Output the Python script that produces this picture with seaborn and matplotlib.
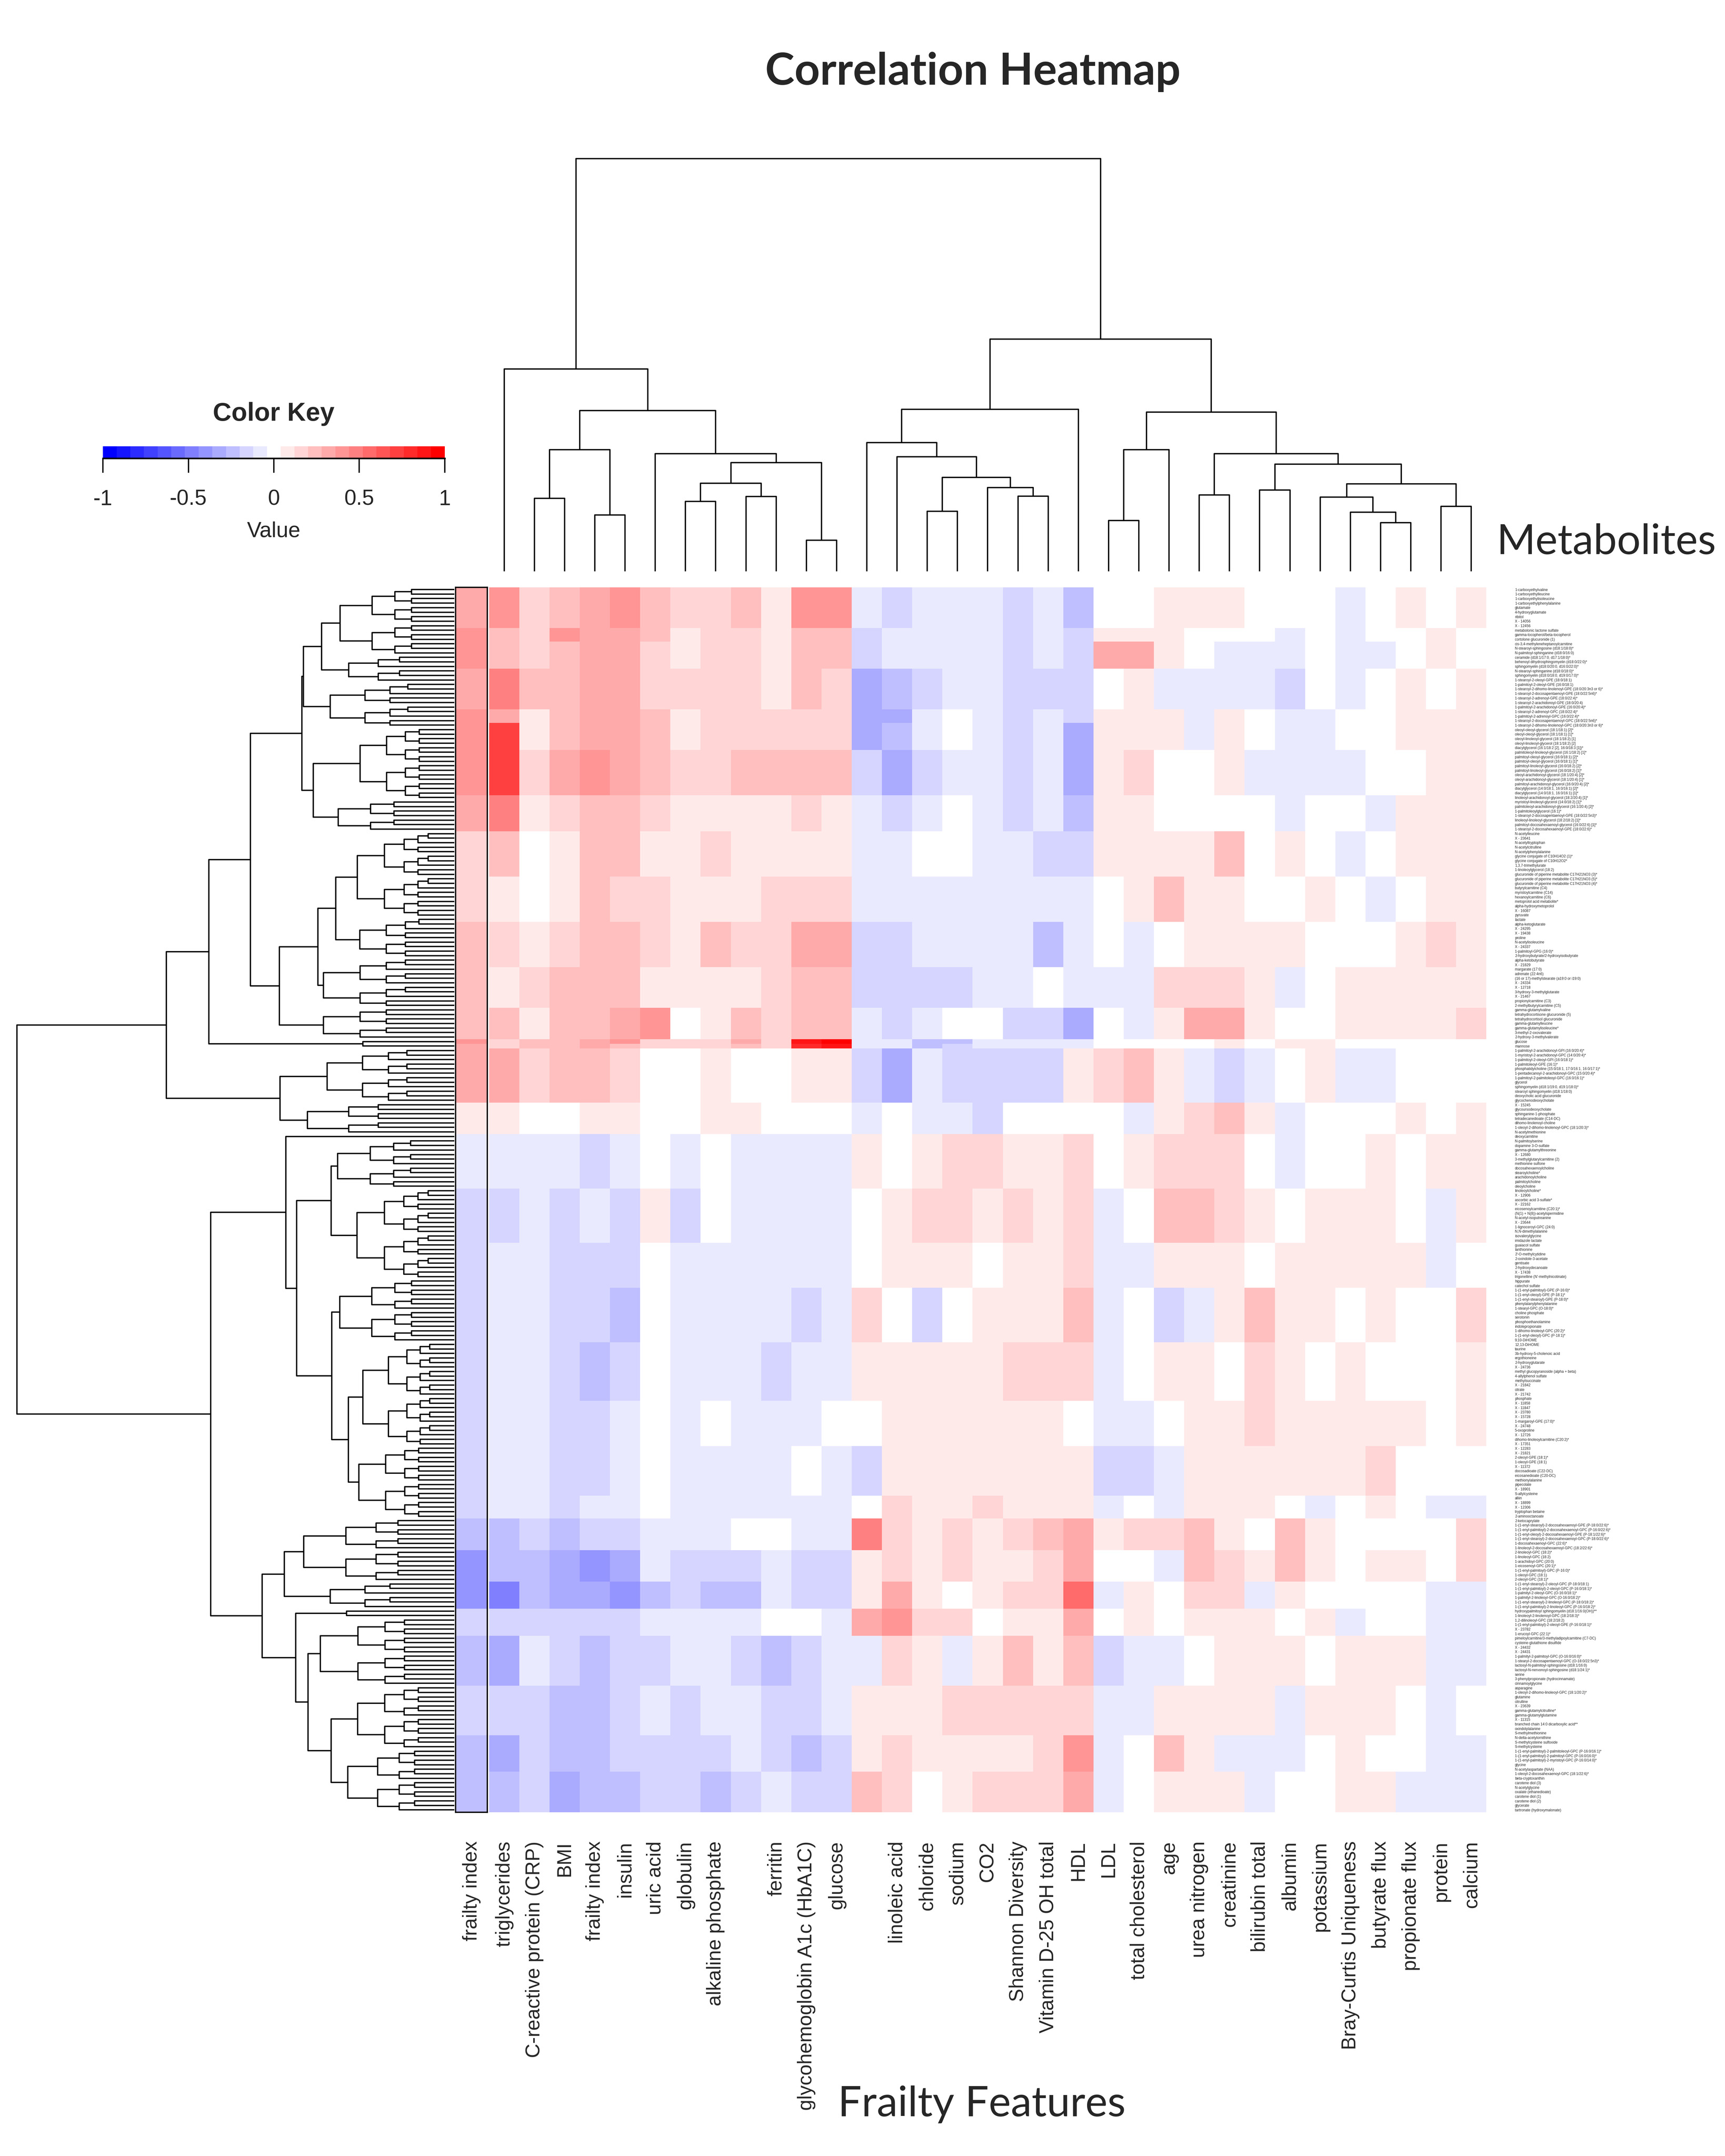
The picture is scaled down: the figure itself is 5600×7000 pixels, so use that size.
import numpy as np
import pandas as pd
import matplotlib
matplotlib.use("Agg")
import matplotlib.pyplot as plt
import seaborn as sns
from matplotlib.colors import ListedColormap

W, H = 6000, 7500

# ---- column order (left to right) as in the clustered heatmap ----
features = ["triglycerides", "C-reactive protein (CRP)", "BMI", "frailty index", "insulin",
            "uric acid", "globulin", "alkaline phosphate", "", "ferritin",
            "glycohemoglobin A1c (HbA1C)", "glucose", "", "linoleic acid", "chloride",
            "sodium", "CO2", "Shannon Diversity", "Vitamin D-25 OH total", "HDL", "LDL",
            "total cholesterol", "age", "urea nitrogen", "creatinine", "bilirubin total",
            "albumin", "potassium", "Bray-Curtis Uniqueness", "butyrate flux",
            "propionate flux", "protein", "calcium"]

# ---- row order (top to bottom) ----
metabolites = [
    "1-carboxyethylvaline", "1-carboxyethylleucine", "1-carboxyethylisoleucine",
    "1-carboxyethylphenylalanine", "glutamate", "4-hydroxyglutamate", "ribitol", "X - 14056",
    "X - 12456", "metabolonic lactone sulfate", "gamma-tocopherol/beta-tocopherol",
    "cortolone glucuronide (1)", "cis-3,4-methyleneheptanoylcarnitine",
    "N-stearoyl-sphingosine (d18:1/18:0)*", "N-palmitoyl-sphinganine (d18:0/16:0)",
    "ceramide (d18:1/17:0, d17:1/18:0)*", "behenoyl dihydrosphingomyelin (d18:0/22:0)*",
    "sphingomyelin (d18:0/20:0, d16:0/22:0)*", "N-stearoyl-sphinganine (d18:0/18:0)*",
    "sphingomyelin (d18:0/18:0, d19:0/17:0)*", "1-stearoyl-2-oleoyl-GPE (18:0/18:1)",
    "1-palmitoyl-2-oleoyl-GPE (16:0/18:1)", "1-stearoyl-2-dihomo-linolenoyl-GPE (18:0/20:3n3 or 6)*",
    "1-stearoyl-2-docosapentaenoyl-GPE (18:0/22:5n6)*", "1-stearoyl-2-adrenoyl-GPE (18:0/22:4)*",
    "1-stearoyl-2-arachidonoyl-GPE (18:0/20:4)", "1-palmitoyl-2-arachidonoyl-GPE (16:0/20:4)*",
    "1-stearoyl-2-adrenoyl-GPC (18:0/22:4)*", "1-palmitoyl-2-adrenoyl-GPC (16:0/22:4)*",
    "1-stearoyl-2-docosapentaenoyl-GPC (18:0/22:5n6)*",
    "1-stearoyl-2-dihomo-linolenoyl-GPC (18:0/20:3n3 or 6)*",
    "oleoyl-oleoyl-glycerol (18:1/18:1) [2]*", "oleoyl-oleoyl-glycerol (18:1/18:1) [1]*",
    "oleoyl-linoleoyl-glycerol (18:1/18:2) [1]", "oleoyl-linoleoyl-glycerol (18:1/18:2) [2]",
    "diacylglycerol (16:1/18:2 [2], 16:0/18:3 [1])*",
    "palmitoleoyl-linoleoyl-glycerol (16:1/18:2) [1]*", "palmitoyl-oleoyl-glycerol (16:0/18:1) [2]*",
    "palmitoyl-oleoyl-glycerol (16:0/18:1) [1]*", "palmitoyl-linoleoyl-glycerol (16:0/18:2) [2]*",
    "palmitoyl-linoleoyl-glycerol (16:0/18:2) [1]*", "oleoyl-arachidonoyl-glycerol (18:1/20:4) [2]*",
    "oleoyl-arachidonoyl-glycerol (18:1/20:4) [1]*",
    "palmitoyl-arachidonoyl-glycerol (16:0/20:4) [2]*",
    "diacylglycerol (14:0/18:1, 16:0/16:1) [2]*", "diacylglycerol (14:0/18:1, 16:0/16:1) [1]*",
    "linoleoyl-arachidonoyl-glycerol (18:2/20:4) [1]*",
    "myristoyl-linoleoyl-glycerol (14:0/18:2) [1]*",
    "palmitoleoyl-arachidonoyl-glycerol (16:1/20:4) [2]*", "1-palmitoleoylglycerol (16:1)*",
    "1-stearoyl-2-docosapentaenoyl-GPE (18:0/22:5n3)*",
    "linoleoyl-linoleoyl-glycerol (18:2/18:2) [1]*",
    "palmitoyl-docosahexaenoyl-glycerol (16:0/22:6) [1]*",
    "1-stearoyl-2-docosahexaenoyl-GPE (18:0/22:6)*", "N-acetylleucine", "X - 23641",
    "N-acetyltryptophan", "N-acetylcitrulline", "N-acetylphenylalanine",
    "glycine conjugate of C10H14O2 (1)*", "glycine conjugate of C10H12O2*",
    "1,3,7-trimethylurate", "1-linoleoylglycerol (18:2)",
    "glucuronide of piperine metabolite C17H21NO3 (3)*",
    "glucuronide of piperine metabolite C17H21NO3 (5)*",
    "glucuronide of piperine metabolite C17H21NO3 (4)*", "butyrylcarnitine (C4)",
    "myristoylcarnitine (C14)", "hexanoylcarnitine (C6)", "metoprolol acid metabolite*",
    "alpha-hydroxymetoprolol", "X - 16087", "pyruvate", "lactate", "alpha-ketoglutarate",
    "X - 24295", "X - 19438", "proline", "N-acetylisoleucine", "X - 24337",
    "1-palmitoyl-GPG (16:0)*", "2-hydroxybutyrate/2-hydroxyisobutyrate", "alpha-ketobutyrate",
    "X - 21829", "margarate (17:0)", "adrenate (22:4n6)",
    "(16 or 17)-methylstearate (a19:0 or i19:0)", "X - 24334", "X - 12718",
    "3-hydroxy-3-methylglutarate", "X - 21467", "propionylcarnitine (C3)",
    "2-methylbutyrylcarnitine (C5)", "gamma-glutamylvaline", "tetrahydrocortisone glucuronide (5)",
    "tetrahydrocortisol glucuronide", "gamma-glutamylleucine", "gamma-glutamylisoleucine*",
    "3-methyl-2-oxovalerate", "2-hydroxy-3-methylvalerate", "glucose", "mannose",
    "1-palmitoyl-2-arachidonoyl-GPI (16:0/20:4)*", "1-myristoyl-2-arachidonoyl-GPC (14:0/20:4)*",
    "1-palmitoyl-2-oleoyl-GPI (16:0/18:1)*", "1-palmitoleoyl-GPE (16:1)*",
    "phosphatidylcholine (15:0/18:1, 17:0/16:1, 16:0/17:1)*",
    "1-pentadecanoyl-2-arachidonoyl-GPC (15:0/20:4)*",
    "1-palmitoyl-2-palmitoleoyl-GPC (16:0/16:1)*", "glycerol",
    "sphingomyelin (d18:1/19:0, d19:1/18:0)*", "stearoyl sphingomyelin (d18:1/18:0)",
    "deoxycholic acid glucuronide", "glycochenodeoxycholate", "X - 15245",
    "glycoursodeoxycholate", "sphinganine-1-phosphate", "tetradecanedioate (C14-DC)",
    "dihomo-linolenoyl-choline", "1-oleoyl-2-dihomo-linolenoyl-GPC (18:1/20:3)*",
    "N-acetylmethionine", "deoxycarnitine", "N-palmitoylserine", "dopamine 3-O-sulfate",
    "gamma-glutamylthreonine", "X - 12680", "3-methylglutarylcarnitine (2)",
    "methionine sulfone", "docosahexaenoylcholine", "stearoylcholine*", "arachidonoylcholine",
    "palmitoylcholine", "oleoylcholine", "linoleoylcholine*", "X - 12906",
    "ascorbic acid 3-sulfate*", "X - 22162", "eicosenoylcarnitine (C20:1)*",
    "(N(1) + N(8))-acetylspermidine", "N-acetyl-isoputreanine", "X - 23644",
    "1-lignoceroyl-GPC (24:0)", "N,N-dimethylalanine", "isovalerylglycine", "imidazole lactate",
    "guaiacol sulfate", "lanthionine", "2'-O-methylcytidine", "2-oxindole-3-acetate",
    "gentisate", "2-hydroxydecanoate", "X - 17438", "trigonelline (N'-methylnicotinate)",
    "hippurate", "catechol sulfate", "1-(1-enyl-palmitoyl)-GPE (P-16:0)*",
    "1-(1-enyl-oleoyl)-GPE (P-18:1)*", "1-(1-enyl-stearoyl)-GPE (P-18:0)*",
    "phenylalanylphenylalanine", "1-stearyl-GPC (O-18:0)*", "choline phosphate", "serotonin",
    "phosphoethanolamine", "indolepropionate", "1-dihomo-linoleoyl-GPC (20:2)*",
    "1-(1-enyl-oleoyl)-GPC (P-18:1)*", "9,10-DiHOME", "12,13-DiHOME", "taurine",
    "3b-hydroxy-5-cholenoic acid", "ergothioneine", "2-hydroxyglutarate", "X - 24736",
    "methyl glucopyranoside (alpha + beta)", "4-allylphenol sulfate", "methylsuccinate",
    "X - 21842", "citrate", "X - 21742", "phosphate", "X - 11858", "X - 11847", "X - 23780",
    "X - 15728", "1-margaroyl-GPE (17:0)*", "X - 24748", "5-oxoproline", "X - 12726",
    "dihomo-linoleoylcarnitine (C20:2)*", "X - 17351", "X - 12283", "X - 21821",
    "2-oleoyl-GPE (18:1)*", "1-oleoyl-GPE (18:1)", "X - 11372", "docosadioate (C22-DC)",
    "eicosanedioate (C20-DC)", "methionylalanine", "pipecolate", "X - 18901", "S-allylcysteine",
    "alliin", "X - 18899", "X - 12306", "tryptophan betaine", "2-aminooctanoate",
    "2-ketocaprylate", "1-(1-enyl-stearoyl)-2-docosahexaenoyl-GPE (P-18:0/22:6)*",
    "1-(1-enyl-palmitoyl)-2-docosahexaenoyl-GPC (P-16:0/22:6)*",
    "1-(1-enyl-oleoyl)-2-docosahexaenoyl-GPE (P-18:1/22:6)*",
    "1-(1-enyl-stearoyl)-2-docosahexaenoyl-GPC (P-18:0/22:6)*", "1-docosahexaenoyl-GPC (22:6)*",
    "1-linoleoyl-2-docosahexaenoyl-GPC (18:2/22:6)*", "2-linoleoyl-GPC (18:2)*",
    "1-linoleoyl-GPC (18:2)", "1-arachidoyl-GPC (20:0)", "1-eicosenoyl-GPC (20:1)*",
    "1-(1-enyl-palmitoyl)-GPC (P-16:0)*", "1-oleoyl-GPC (18:1)", "2-oleoyl-GPC (18:1)*",
    "1-(1-enyl-stearoyl)-2-oleoyl-GPC (P-18:0/18:1)",
    "1-(1-enyl-palmitoyl)-2-oleoyl-GPC (P-16:0/18:1)*", "1-palmityl-2-oleoyl-GPC (O-16:0/18:1)*",
    "1-palmityl-2-linoleoyl-GPC (O-16:0/18:2)*",
    "1-(1-enyl-stearoyl)-2-linoleoyl-GPC (P-18:0/18:2)*",
    "1-(1-enyl-palmitoyl)-2-linoleoyl-GPC (P-16:0/18:2)*",
    "hydroxypalmitoyl sphingomyelin (d18:1/16:0(OH))**",
    "1-linoleoyl-2-linolenoyl-GPC (18:2/18:3)*", "1,2-dilinoleoyl-GPC (18:2/18:2)",
    "1-(1-enyl-palmitoyl)-2-oleoyl-GPE (P-16:0/18:1)*", "X - 23782", "1-erucoyl-GPC (22:1)*",
    "pimeloylcarnitine/3-methyladipoylcarnitine (C7-DC)", "cysteine-glutathione disulfide",
    "X - 24432", "X - 24431", "1-palmityl-2-palmitoyl-GPC (O-16:0/16:0)*",
    "1-stearyl-2-docosapentaenoyl-GPC (O-18:0/22:5n3)*",
    "lactosyl-N-palmitoyl-sphingosine (d18:1/16:0)",
    "lactosyl-N-nervonoyl-sphingosine (d18:1/24:1)*", "serine",
    "3-phenylpropionate (hydrocinnamate)", "cinnamoylglycine", "asparagine",
    "1-oleoyl-2-dihomo-linoleoyl-GPC (18:1/20:2)*", "glutamine", "citrulline", "X - 23639",
    "gamma-glutamylcitrulline*", "gamma-glutamylglutamine", "X - 11315",
    "branched chain 14:0 dicarboxylic acid**", "oxindolylalanine", "S-methylmethionine",
    "N-delta-acetylornithine", "S-methylcysteine sulfoxide", "S-methylcysteine",
    "1-(1-enyl-palmitoyl)-2-palmitoleoyl-GPC (P-16:0/16:1)*",
    "1-(1-enyl-palmitoyl)-2-palmitoyl-GPC (P-16:0/16:0)*",
    "1-(1-enyl-palmitoyl)-2-myristoyl-GPC (P-16:0/14:0)*", "glycine",
    "N-acetylaspartate (NAA)", "1-oleoyl-2-docosahexaenoyl-GPC (18:1/22:6)*",
    "beta-cryptoxanthin", "carotene diol (3)", "N-acetylglycine", "oxalate (ethanedioate)",
    "carotene diol (1)", "carotene diol (2)", "glycerate", "tartronate (hydroxymalonate)",
]

# ---- correlations, read per band of rows, in colour-key steps (1 step = 0.08) ----
KEY_STEP = 0.08
band_sizes = [9, 3, 6, 9, 3, 6, 10, 8, 10, 10, 10, 9, 7, 1, 1, 12, 7, 12, 12, 10, 12, 13,
              10, 11, 5, 7, 7, 6, 6, 11, 11, 8, 9]
sidebar_level = [4, 5, 5, 4, 5, 5, 5, 4, 2, 2, 3, 3, 3, 5, 4, 4, 1, -1, -2, -2, -2, -2,
                 -2, -2, -2, -3, -5, -5, -2, -3, -2, -3, -3]
band_level = [
    [5, 2, 3, 4, 5, 3, 2, 2, 3, 1, 5, 5, -1, -2, -1, -1, -1, -2, -1, -3, 0, 0, 1, 1, 1, 0, 0, 0, -1, 0, 1, 0, 1],
    [3, 2, 5, 4, 4, 3, 1, 2, 2, 1, 3, 3, -2, -1, -1, -1, -1, -2, -1, -2, 1, 1, 1, 0, 0, 0, -1, 0, -1, 0, 0, 1, 0],
    [3, 2, 3, 4, 4, 2, 1, 2, 2, 1, 3, 3, -2, -1, -1, -1, -1, -2, -1, -2, 4, 4, 1, 0, -1, -1, -1, 0, -1, -1, 0, 1, 0],
    [6, 3, 3, 4, 4, 2, 2, 2, 2, 1, 3, 2, -4, -3, -2, -1, -1, -2, -2, -2, 0, 1, -1, -1, -1, -1, -2, 0, -1, 0, 1, 0, 1],
    [4, 1, 3, 4, 4, 3, 1, 2, 2, 2, 2, 2, -4, -4, -1, 0, -1, -2, -1, -2, 1, 1, 1, -1, 1, 0, -1, -1, 0, 0, 1, 1, 1],
    [9, 1, 3, 4, 4, 3, 1, 2, 2, 2, 2, 2, -4, -3, -1, 0, -1, -2, -1, -4, 1, 1, 1, -1, 1, 0, -1, -1, 0, 0, 1, 1, 1],
    [9, 2, 4, 5, 4, 3, 2, 2, 3, 3, 3, 3, -2, -4, -2, -1, -1, -2, -1, -4, 1, 2, 0, 0, 1, -1, -1, -1, -1, 0, 0, 1, 1],
    [6, 1, 2, 3, 3, 2, 1, 1, 1, 1, 2, 1, -1, -2, -1, 0, -1, -2, -1, -3, 1, 1, 0, 0, 0, 0, -1, 0, 0, -1, 1, 1, 1],
    [3, 0, 1, 3, 3, 1, 1, 2, 1, 1, 1, 1, -1, -1, 0, 0, -1, -1, -2, -2, 1, 1, 1, 1, 3, 0, 1, 0, -1, 0, 1, 1, 1],
    [1, 0, 1, 3, 2, 2, 1, 1, 1, 2, 2, 2, -1, -1, -1, -1, -1, -1, -1, -1, 0, 1, 3, 1, 1, 0, 0, 1, 0, -1, 0, 1, 1],
    [2, 1, 2, 3, 3, 2, 1, 3, 2, 2, 4, 4, -2, -2, -1, -1, -1, -1, -3, -1, 0, -1, 0, 1, 1, 1, 1, 0, 0, 0, 1, 2, 1],
    [1, 2, 3, 3, 3, 1, 1, 1, 1, 2, 3, 3, -2, -2, -2, -2, -1, -1, 0, -1, -1, -1, 2, 2, 2, 1, -1, 0, 1, 1, 1, 1, 1],
    [3, 1, 3, 3, 4, 5, 0, 1, 3, 2, 3, 3, -1, -2, -1, 0, 0, -2, -2, -4, 0, -1, 1, 4, 4, 1, 0, 0, 1, 1, 1, 1, 2],
    [2, 3, 3, 4, 5, 2, 2, 2, 4, 2, 11, 12, -1, -1, -3, -3, -1, -1, -1, -1, 0, 0, 0, 0, 1, 0, 1, 1, 0, 0, 0, 0, 0],
    [2, 3, 3, 4, 3, 2, 2, 2, 3, 2, 10, 11, -1, -1, -3, -2, -1, -1, -1, -1, 0, 0, 0, 0, 1, 0, 1, 1, 0, 0, 0, 0, 0],
    [4, 2, 3, 3, 2, 0, 0, 1, 0, 0, 1, 1, -2, -4, -1, -2, -2, -2, -2, 1, 2, 3, 1, -1, -2, -1, 0, 1, -1, -1, 0, 0, 0],
    [1, 0, 0, 1, 1, 0, 0, 1, 1, 0, 0, 0, -1, 0, -1, -1, -2, 0, 0, 0, 0, -1, 1, 2, 3, 1, -1, 0, 0, 0, 1, 0, 1],
    [-1, -1, -1, -2, -1, 0, -1, 0, -1, -1, -1, -1, 1, 0, 1, 2, 2, 1, 1, 2, 0, 1, 2, 2, 2, 0, -1, 0, 0, 1, 0, 1, 1],
    [-2, -1, -2, -1, -2, 1, -2, 0, -1, -1, -1, -1, 0, 1, 2, 2, 1, 2, 1, 2, -1, 0, 3, 3, 2, 1, 0, 1, 1, 1, 0, -1, 1],
    [-1, -1, -2, -2, -2, 0, -1, -1, -1, -1, -1, -1, 0, 1, 1, 1, 0, 1, 1, 2, -1, -1, 1, 1, 1, 0, 1, 1, 1, 1, 1, -1, 0],
    [-1, -1, -2, -2, -3, 0, -1, -1, -1, -1, -2, -1, 2, 0, -2, 0, 1, 1, 1, 3, -1, 0, -2, -1, 1, 3, 1, 1, 0, 1, 0, 0, 2],
    [-1, -1, -2, -3, -2, 0, -1, -1, -1, -2, -1, -1, 1, 1, 1, 1, 1, 2, 2, 2, -1, 0, 1, 1, 0, 2, 1, 0, 1, 0, 0, 0, 1],
    [-1, -1, -2, -2, -1, 0, -1, 0, -1, -1, -1, 0, 0, 1, 1, 1, 1, 1, 1, 0, -1, -1, 0, 1, 1, 2, 1, 1, 1, 1, 1, 0, 1],
    [-1, -1, -2, -2, -1, 0, -1, -1, -1, -1, 0, -1, -2, 1, 1, 1, 1, 1, 1, 1, -2, -2, -1, 1, 1, 1, 1, 1, 1, 2, 0, 0, 0],
    [-1, -1, -2, -1, -1, 0, -1, -1, -1, -1, -1, -1, 0, 2, 1, 1, 2, 1, 1, 1, -1, 0, -1, 1, 1, 1, 0, -1, 0, 1, 0, -1, -1],
    [-3, -2, -3, -2, -2, -1, -1, -1, 0, 0, -1, -1, 6, 2, 1, 2, 1, 2, 3, 4, 1, 2, 2, 3, 1, 0, 3, 1, 0, 0, 0, 0, 2],
    [-3, -3, -4, -5, -4, -1, -2, -2, -2, -1, -2, -2, 1, 2, 1, 2, 1, 1, 2, 4, 0, 0, -1, 3, 2, 1, 3, 1, 0, 1, 1, 0, 2],
    [-6, -3, -4, -4, -5, -3, -2, -3, -3, -1, -2, -2, 1, 4, 1, 0, 1, 2, 2, 7, -1, 1, 0, 2, 2, -1, 1, 0, 0, 0, 0, -1, -1],
    [-2, -2, -2, -2, -2, -1, -1, -1, -1, 0, 0, -1, 4, 5, 2, 2, 0, 1, 1, 4, 0, 1, 0, 1, 1, 1, 0, 1, -1, 0, 0, -1, -1],
    [-4, -1, -2, -3, -2, -2, -1, -1, -2, -3, -2, -1, -1, 2, 1, -1, 1, 3, 1, 3, -2, -1, -1, 0, 1, 1, 1, 0, 1, 1, 1, -1, -1],
    [-2, -2, -3, -3, -2, -1, -2, -1, -1, -2, -2, -1, 1, 1, 1, 2, 2, 2, 2, 2, -1, -1, 1, 1, 1, 1, -1, 1, 1, 1, 0, -1, 0],
    [-4, -2, -3, -3, -2, -2, -2, -2, -1, -2, -3, -2, 1, 2, 1, 1, 1, 1, 2, 5, -1, 0, 3, 1, -1, -1, -1, 0, 1, 0, 0, -1, -1],
    [-3, -2, -4, -3, -3, -2, -2, -3, -2, -1, -2, -2, 3, 2, 0, 1, 2, 2, 2, 4, -1, 0, 1, 1, 1, -1, 0, 0, 1, 1, -1, -1, -1],
]

# ---- dendrograms: (height, left, right); column leaves are column indices,
# row groups are [leaf count, join height] for clusters too fine to read ----
col_tree = (14.43,
            (7.08, 0, (5.62, (4.26, (2.56, 1, 2), (1.97, 3, 4)),
                       (4.12, 5, (3.81, (3.08, (2.45, 6, 7), (2.62, 8, 9)), (1.09, 10, 11))))),
            (8.12,
             (5.67, (4.51, 12, (4.01, 13, (3.29, (2.10, 14, 15), (2.93, 16, (2.63, 17, 18))))), 19),
             (5.57, (4.26, (1.78, 20, 21), 22),
              (4.12, (2.67, 23, 24),
               (3.75, (2.85, 25, 26),
                (3.06, (2.60, 27, (2.07, 28, (1.71, 29, 30))), (2.28, 31, 32)))))))

row_tree = (13.86,
            (9.13,
             (7.78,
              (6.46,
               (4.83,
                (4.78, (4.20, [15, 3.62], [6, 3.35]), [10, 3.93]),
                (4.47, [16, 2.98], [7, 3.68])),
               (5.54, (4.32, (3.76, [19, 3.07], [9, 2.99]), [11, 4.15]), [7, 4.15])),
              [2, 2.90]),
             (5.52, [12, 4.03], [7, 4.65])),
            (7.72,
             (5.34, [1, 0.0],
              (5.00, (3.90, [11, 3.70], [20, 3.08]),
               (3.88, [14, 3.63], (3.36, [23, 2.90], [16, 3.02])))),
             (6.09, (5.39, [14, 4.77], [6, 3.93]),
              (5.02, [2, 3.41], (4.63, [15, 4.24], (3.90, [14, 3.06], [14, 3.37]))))))


def split_group(n, h, start):
    # fine structure inside an unreadable cluster: halve it, lowering the joins
    if n == 1:
        return start
    k = (n + 1) // 2
    return (h, split_group(k, h * 0.72, start), split_group(n - k, h * 0.72, start + k))


def resolve(node, start=0):
    if isinstance(node, list):
        return split_group(node[0], node[1], start), start + node[0]
    h, a, b = node
    a, start = resolve(a, start)
    b, start = resolve(b, start)
    return (h, a, b), start


def draw_tree(ax, node, vertical, lw=1.1):
    if isinstance(node, int):
        return node + 0.5, 0.0
    h, a, b = node
    pa, ha = draw_tree(ax, a, vertical, lw)
    pb, hb = draw_tree(ax, b, vertical, lw)
    pos, hts = [pa, pa, pb, pb], [ha, h, h, hb]
    if vertical:
        ax.plot(pos, hts, color="black", lw=lw, clip_on=False, solid_capstyle="butt")
    else:
        ax.plot(hts, pos, color="black", lw=lw, clip_on=False, solid_capstyle="butt")
    return (pa + pb) / 2, h


sns.set_theme(style="white")
plt.rcParams["font.family"] = ["Liberation Sans", "DejaVu Sans"]
title_font = ["Lato", "Open Sans", "DejaVu Sans"]

blues = [(k / 12, k / 12, 1.0) for k in range(12)]
reds = [(1.0, 1 - k / 12, 1 - k / 12) for k in range(1, 13)]
cmap = ListedColormap(blues + [(1.0, 1.0, 1.0)] + reds)

corr = pd.DataFrame(np.repeat(np.array(band_level), band_sizes, axis=0) * KEY_STEP,
                    index=metabolites, columns=features)
side = pd.DataFrame({"frailty index": np.repeat(sidebar_level, band_sizes) * KEY_STEP},
                    index=metabolites)
n_rows, n_cols = corr.shape

fig = plt.figure(figsize=(20, 25), dpi=280)


def px_axes(x0, y0, x1, y1):
    return fig.add_axes([x0 / W, 1 - y1 / H, (x1 - x0) / W, (y1 - y0) / H])


# main heatmap
hax = px_axes(1701, 2043, 5170, 6304)
sns.heatmap(corr, ax=hax, cmap=cmap, vmin=-1, vmax=1, cbar=False,
            xticklabels=features, yticklabels=metabolites)
hax.yaxis.tick_right()
hax.set_yticks(np.arange(n_rows) + 0.5)
hax.set_yticklabels(metabolites, rotation=0, fontsize=3, ha="left")
hax.set_xticks(np.arange(n_cols) + 0.5)
hax.set_xticklabels(features, rotation=90, fontsize=16.5)
hax.tick_params(axis="y", length=0, pad=23.8, labelright=True, labelleft=False)
hax.tick_params(axis="x", length=0, pad=24.2)
hax.set_xlabel("")
hax.set_ylabel("")

# side colour bar (frailty index)
sax = px_axes(1585, 2043, 1695, 6304)
sns.heatmap(side, ax=sax, cmap=cmap, vmin=-1, vmax=1, cbar=False,
            xticklabels=["frailty index"], yticklabels=False)
sax.set_xticklabels(["frailty index"], rotation=90, fontsize=16.5)
sax.tick_params(axis="x", length=0, pad=24.2)
for s in sax.spines.values():
    s.set_visible(True)
    s.set_color("black")
    s.set_linewidth(1.1)

# column dendrogram
cax = px_axes(1701, 552, 5170, 1988)
draw_tree(cax, col_tree, vertical=True)
cax.set_xlim(0, n_cols)
cax.set_ylim(0, col_tree[0])
cax.axis("off")

# row dendrogram
rax = px_axes(59, 2043, 1580, 6304)
row_full, n_leaves = resolve(row_tree)
draw_tree(rax, row_full, vertical=False)
rax.set_ylim(n_leaves, 0)
rax.set_xlim(row_tree[0], 0)
rax.axis("off")

# colour key
kax = px_axes(358, 1552, 1547, 1594)
edges = np.linspace(-1, 1, 26)
centers = (np.arange(25) - 12) * KEY_STEP
kax.pcolormesh(edges, [0, 1], centers[None, :], cmap=cmap, vmin=-1, vmax=1)
kax.set_xlim(-1, 1)
kax.set_ylim(0, 1)
for name, s in kax.spines.items():
    s.set_visible(name == "bottom")
kax.spines["bottom"].set_color("black")
kax.spines["bottom"].set_linewidth(1.3)
kax.set_yticks([])
kax.set_xticks([-1, -0.5, 0, 0.5, 1])
kax.set_xticklabels(["-1", "-0.5", "0", "0.5", "1"])
kax.tick_params(axis="x", direction="out", length=12, width=1.1, labelsize=18, pad=14,
                bottom=True, color="black")
fig.text(952 / W, 1 - 1440 / H, "Color Key", ha="center", va="center",
         fontsize=21.5, fontweight="bold")
fig.text(952 / W, 1 - 1849 / H, "Value", ha="center", va="center", fontsize=18)

# titles
fig.text(3384 / W, 1 - 250 / H, "Correlation Heatmap", ha="center", va="center",
         fontsize=37, fontweight="bold", family=title_font)
fig.text(5587 / W, 1 - 1886 / H, "Metabolites", ha="center", va="center",
         fontsize=35, family=title_font)
fig.text(3415 / W, 1 - 7320 / H, "Frailty Features", ha="center", va="center",
         fontsize=35, family=title_font)

# 280 dpi keeps the file under the 40-megapixel reader limit (5600 x 7000)
fig.savefig("out.png", dpi=280)
